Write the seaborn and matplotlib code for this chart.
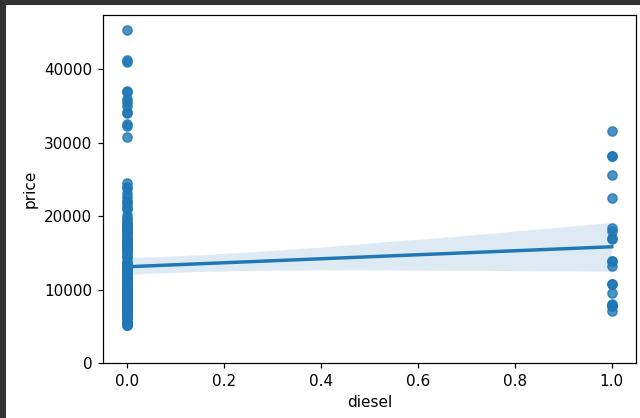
import matplotlib
matplotlib.use("Agg")
import matplotlib.pyplot as plt
from matplotlib.patches import Rectangle
import pandas as pd
import seaborn as sns

# Car prices, split by fuel type (0 = gas, 1 = diesel)
gas_price = [
    13495, 16500, 16500, 13950, 17450, 15250, 17710, 18920, 23875,
    16430, 16925, 20970, 21105, 24565, 30760, 41315, 36880,
    5151, 6295, 6575,
    5572, 6377, 7957, 6229, 6692, 7609, 8558, 8921, 12964,
    6479, 6855, 5399, 6529, 7129, 7295, 7295, 7895, 9095, 8845, 10295, 12945, 10345,
    6785, 11048,
    32250, 35550, 36000,
    5195, 6095, 6795, 6695, 7395, 8845, 8495, 10595, 10245, 11245, 15645, 8495, 11595, 13645,
    34184, 35056, 40960, 45400,
    16503,
    5389, 6189, 6669, 7689, 9959, 8499, 12629, 14869, 14489, 6989, 8189, 9279, 9279,
    5499, 7349, 6649, 6849, 7349, 7299, 7799, 7499, 7999, 8249, 8949, 9549,
    13499, 14399, 13499, 17199, 19699, 18399,
    11900, 12440, 15580, 16695, 16630, 18150,
    5572, 7957, 6229, 6692, 7609, 8921, 12764,
    22018, 32528, 34028, 37028,
    9295, 9895,
    11850, 12170, 15040, 15510, 18150, 18620,
    5118, 7053, 7603, 7126, 7775, 9960, 9233, 11259, 7463, 10198, 8013, 11694,
    5348, 6338, 6488, 6918, 7898, 8778, 6938, 7198, 8058, 8238, 9298, 9538,
    8449, 9639, 9989, 11199, 11549, 17669, 8948, 10698, 9988, 10898, 11248,
    16558, 15998, 15690, 15750,
    7775, 7975, 8195, 8495, 9995, 11595, 9980, 12290,
    12940, 13415, 15985, 16515, 18420, 18950, 16845, 19045, 21485, 22625,
    19500, 20200, 21900, 23200, 24000,
]
diesel_price = [
    31600, 28248, 28176, 25552, 22470, 18344, 17950, 17075, 16900, 13860,
    13845, 13200, 10795, 10698, 9495, 7995, 7898, 7788, 7775, 7099,
]

diesel_flag = [0.0] * len(gas_price) + [1.0] * len(diesel_price)
df = pd.DataFrame({"diesel": diesel_flag, "price": gas_price + diesel_price})

plt.style.use("default")
DPI = 110
fig = plt.figure(figsize=(640 / DPI, 418 / DPI), dpi=DPI)
ax = fig.add_axes([103 / 640, 55 / 418, 533 / 640, 348 / 418])

sns.regplot(x="diesel", y="price", data=df, ax=ax, seed=0)
ax.set_ylim(0,)

# dark window frame along the top and left edges
fig.patches.append(Rectangle((0, 1 - 5 / 418), 1, 5 / 418, transform=fig.transFigure,
                             facecolor="#333333", edgecolor="none", zorder=10))
fig.patches.append(Rectangle((0, 0), 6 / 640, 1, transform=fig.transFigure,
                             facecolor="#333333", edgecolor="none", zorder=10))

fig.savefig("out.png", dpi=DPI)
